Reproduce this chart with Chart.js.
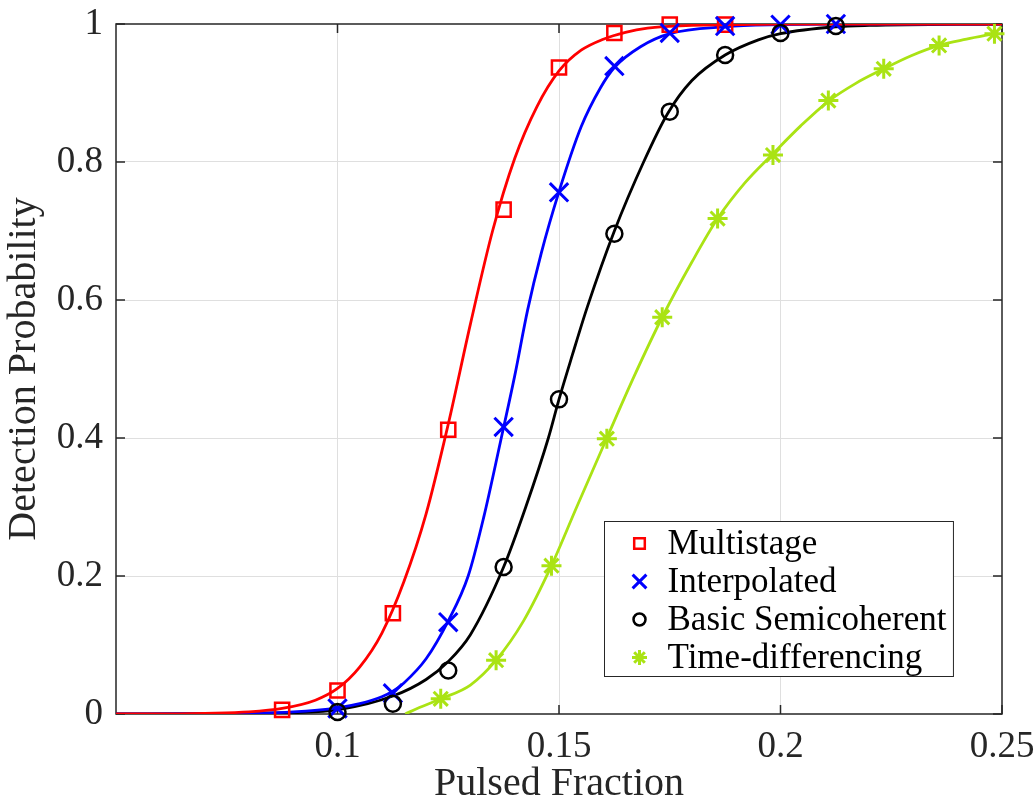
<!DOCTYPE html>
<html>
<head>
<meta charset="utf-8">
<title>Detection Probability vs Pulsed Fraction</title>
<script src="https://cdn.jsdelivr.net/npm/chart.js@4.4.1/dist/chart.umd.min.js"></script>
<style>
  html, body { margin: 0; padding: 0; background: #fff; }
  #wrap { width: 1036px; height: 804px; }
</style>
</head>
<body>
<div id="wrap"><canvas id="pdChart" width="1036" height="804"></canvas></div>
<script>
// simulated detection probabilities (markers)
const multistageX = [0.0875, 0.1, 0.1125, 0.125, 0.1375, 0.15, 0.1625, 0.175, 0.1875];
const multistageP = [0.006, 0.034, 0.146, 0.412, 0.731, 0.937, 0.987, 0.999, 0.999];

const interpX = [0.1, 0.1125, 0.125, 0.1375, 0.15, 0.1625, 0.175, 0.1875, 0.2, 0.2125];
const interpP = [0.008, 0.030, 0.133, 0.416, 0.756, 0.939, 0.987, 0.997, 0.999, 1.0];

const basicX = [0.1, 0.1125, 0.125, 0.1375, 0.15, 0.1625, 0.175, 0.1875, 0.2, 0.2125];
const basicP = [0.003, 0.015, 0.063, 0.213, 0.456, 0.696, 0.873, 0.955, 0.987, 0.997];

const timeDiffX = [0.1233, 0.1358, 0.1483, 0.1608, 0.1733, 0.1858, 0.1983, 0.2108, 0.2233, 0.2358, 0.2483];
const timeDiffP = [0.022, 0.078, 0.215, 0.399, 0.575, 0.718, 0.810, 0.889, 0.935, 0.969, 0.986];

// fitted curves
const multistageFitX = [0.05, 0.06, 0.07, 0.08, 0.0875, 0.095, 0.1, 0.105, 0.11, 0.115, 0.12, 0.125, 0.13, 0.135, 0.14, 0.145, 0.15, 0.155, 0.16, 0.165, 0.17, 0.18, 0.19, 0.2, 0.25];
const multistageFitP = [0.0, 0.0, 0.001, 0.003, 0.008, 0.02, 0.037, 0.068, 0.117, 0.192, 0.29, 0.42, 0.565, 0.70, 0.805, 0.88, 0.932, 0.962, 0.978, 0.988, 0.994, 0.998, 0.999, 1.0, 1.0];

const interpFitX = [0.05, 0.07, 0.08, 0.09, 0.1, 0.105, 0.11, 0.1125, 0.115, 0.12, 0.125, 0.1295, 0.133, 0.1368, 0.14, 0.1429, 0.146, 0.15, 0.155, 0.1594, 0.1625, 0.1684, 0.175, 0.1875, 0.2, 0.2125, 0.25];
const interpFitP = [0.0, 0.0005, 0.001, 0.003, 0.009, 0.015, 0.025, 0.033, 0.045, 0.08, 0.135, 0.2, 0.285, 0.395, 0.49, 0.585, 0.668, 0.757, 0.851, 0.908, 0.937, 0.967, 0.986, 0.996, 0.999, 1.0, 1.0];

const basicFitX = [0.05, 0.07, 0.08, 0.09, 0.1, 0.1125, 0.12, 0.125, 0.13, 0.1375, 0.1425, 0.1476, 0.15, 0.153, 0.1564, 0.1625, 0.1691, 0.1745, 0.18, 0.1875, 0.195, 0.2, 0.2125, 0.22, 0.25];
const basicFitP = [0.0, 0.0005, 0.001, 0.002, 0.006, 0.026, 0.05, 0.076, 0.115, 0.213, 0.3, 0.4, 0.456, 0.52, 0.59, 0.7, 0.8, 0.87, 0.918, 0.955, 0.977, 0.986, 0.996, 0.998, 1.0];

const timeDiffFitX = [0.1153, 0.118, 0.1233, 0.13, 0.1358, 0.142, 0.1483, 0.154, 0.1608, 0.167, 0.1733, 0.18, 0.1858, 0.192, 0.1983, 0.2045, 0.2108, 0.217, 0.2233, 0.2295, 0.2358, 0.242, 0.2483];
const timeDiffFitP = [0.0, 0.008, 0.022, 0.042, 0.078, 0.135, 0.215, 0.3, 0.4, 0.49, 0.575, 0.655, 0.718, 0.77, 0.812, 0.852, 0.888, 0.914, 0.935, 0.954, 0.969, 0.978, 0.986];

const xTickValues = [0.1, 0.15, 0.2, 0.25];
const legendLabels = ['Multistage', 'Interpolated', 'Basic Semicoherent', 'Time-differencing'];

const serif = '"Liberation Serif", "Times New Roman", serif';
const textColor = '#262626';

function pts(xs, ys) {
  return xs.map((x, i) => ({ x: x, y: ys[i] }));
}

const series = [
  { label: legendLabels[0], color: '#ff0000', style: 'rect', radius: 10, width: 2.5, x: multistageX, p: multistageP, fx: multistageFitX, fp: multistageFitP },
  { label: legendLabels[1], color: '#0000ff', style: 'crossRot', radius: 13, width: 3, x: interpX, p: interpP, fx: interpFitX, fp: interpFitP },
  { label: legendLabels[2], color: '#000000', style: 'circle', radius: 8, width: 2.5, x: basicX, p: basicP, fx: basicFitX, fp: basicFitP },
  { label: legendLabels[3], color: '#aae314', style: 'star', radius: 10, width: 3, x: timeDiffX, p: timeDiffP, fx: timeDiffFitX, fp: timeDiffFitP }
];

const datasets = [];
series.forEach((s, i) => {
  // marker sets sit on top, later series over earlier ones
  datasets.push({
    label: s.label,
    data: pts(s.x, s.p),
    showLine: false,
    pointStyle: s.style,
    pointRadius: s.radius,
    pointBorderWidth: s.width,
    pointBorderColor: s.color,
    pointBackgroundColor: 'rgba(0,0,0,0)',
    clip: false,
    order: 3 - i
  });
  datasets.push({
    label: s.label + ' fit',
    data: pts(s.fx, s.fp),
    borderColor: s.color,
    borderWidth: 2.8,
    pointRadius: 0,
    fill: false,
    cubicInterpolationMode: 'monotone',
    order: 4 + i
  });
});

// box, inward tick marks
const axesFrame = {
  id: 'axesFrame',
  beforeDatasetsDraw(chart) {
    const { ctx, chartArea: a, scales } = chart;
    const tl = 9;
    ctx.save();
    ctx.strokeStyle = textColor;
    ctx.lineWidth = 1.5;
    ctx.strokeRect(a.left, a.top, a.right - a.left, a.bottom - a.top);
    ctx.beginPath();
    scales.x.ticks.forEach(t => {
      const px = scales.x.getPixelForValue(t.value);
      ctx.moveTo(px, a.bottom); ctx.lineTo(px, a.bottom - tl);
      ctx.moveTo(px, a.top); ctx.lineTo(px, a.top + tl);
    });
    scales.y.ticks.forEach(t => {
      const py = scales.y.getPixelForValue(t.value);
      ctx.moveTo(a.left, py); ctx.lineTo(a.left + tl, py);
      ctx.moveTo(a.right, py); ctx.lineTo(a.right - tl, py);
    });
    ctx.stroke();
    ctx.restore();
  }
};

// legend in the lower right of the axes, markers only
const markerLegend = {
  id: 'markerLegend',
  afterDraw(chart) {
    const { ctx, chartArea: a } = chart;
    ctx.save();
    ctx.font = '35px ' + serif;
    const textW = Math.max(...series.map(s => ctx.measureText(s.label).width));
    const rowH = 38;
    const boxH = rowH * series.length + 3;
    const markX = 35, textX = 63;
    const boxW = textX + textW + 7;
    const left = Math.round(a.right - 49 - boxW) + 0.5;
    const top = Math.round(a.bottom - 38 - boxH) + 0.5;
    ctx.fillStyle = '#ffffff';
    ctx.fillRect(left, top, boxW, boxH);
    ctx.strokeStyle = textColor;
    ctx.lineWidth = 1;
    ctx.strokeRect(left, top, boxW, boxH);
    series.forEach((s, i) => {
      const cy = top + 22 + i * rowH;
      ctx.save();
      ctx.strokeStyle = s.color;
      ctx.fillStyle = 'rgba(0,0,0,0)';
      ctx.lineWidth = s.width;
      Chart.helpers.drawPoint(ctx, { pointStyle: s.style, radius: s.radius * 0.75, rotation: 0, borderWidth: s.width }, left + markX, cy);
      ctx.restore();
      ctx.fillStyle = '#000000';
      ctx.textBaseline = 'middle';
      ctx.textAlign = 'left';
      ctx.fillText(s.label, left + textX, cy + 1);
    });
    ctx.restore();
  }
};

new Chart(document.getElementById('pdChart'), {
  type: 'line',
  data: { datasets: datasets },
  options: {
    responsive: false,
    animation: false,
    devicePixelRatio: 1,
    layout: { padding: { left: 0, right: 34, top: 24, bottom: 0 } },
    plugins: {
      legend: { display: false },
      tooltip: { enabled: false }
    },
    scales: {
      x: {
        type: 'linear',
        min: 0.05,
        max: 0.25,
        afterBuildTicks: scale => { scale.ticks = xTickValues.map(v => ({ value: v })); },
        afterFit: scale => {
          scale.height = 90;
          scale.paddingLeft = 0;
          scale.paddingRight = 0;
        },
        border: { display: false },
        grid: {
          drawTicks: false,
          lineWidth: 1,
          color: c => (c.tick && c.tick.value >= 0.25) ? 'rgba(0,0,0,0)' : '#dfdfdf'
        },
        ticks: {
          padding: 11,
          maxRotation: 0,
          color: textColor,
          font: { family: serif, size: 37 },
          callback: v => String(Math.round(v * 1000) / 1000)
        },
        title: {
          display: true,
          text: 'Pulsed Fraction',
          color: textColor,
          font: { family: serif, size: 40, lineHeight: 1 },
          padding: { top: 0, bottom: 0 }
        }
      },
      y: {
        min: 0,
        max: 1,
        afterFit: scale => {
          scale.width = 116;
          scale.paddingTop = 0;
          scale.paddingBottom = 0;
        },
        border: { display: false },
        grid: {
          drawTicks: false,
          lineWidth: 1,
          color: c => (c.tick && (c.tick.value <= 0 || c.tick.value >= 1)) ? 'rgba(0,0,0,0)' : '#dfdfdf'
        },
        ticks: {
          stepSize: 0.2,
          padding: 13,
          color: textColor,
          font: { family: serif, size: 37 },
          callback: v => String(Math.round(v * 10) / 10)
        },
        title: {
          display: true,
          text: 'Detection Probability',
          color: textColor,
          font: { family: serif, size: 40, lineHeight: 1 },
          padding: { top: 4, bottom: 0 }
        }
      }
    }
  },
  plugins: [axesFrame, markerLegend]
});
</script>
</body>
</html>
